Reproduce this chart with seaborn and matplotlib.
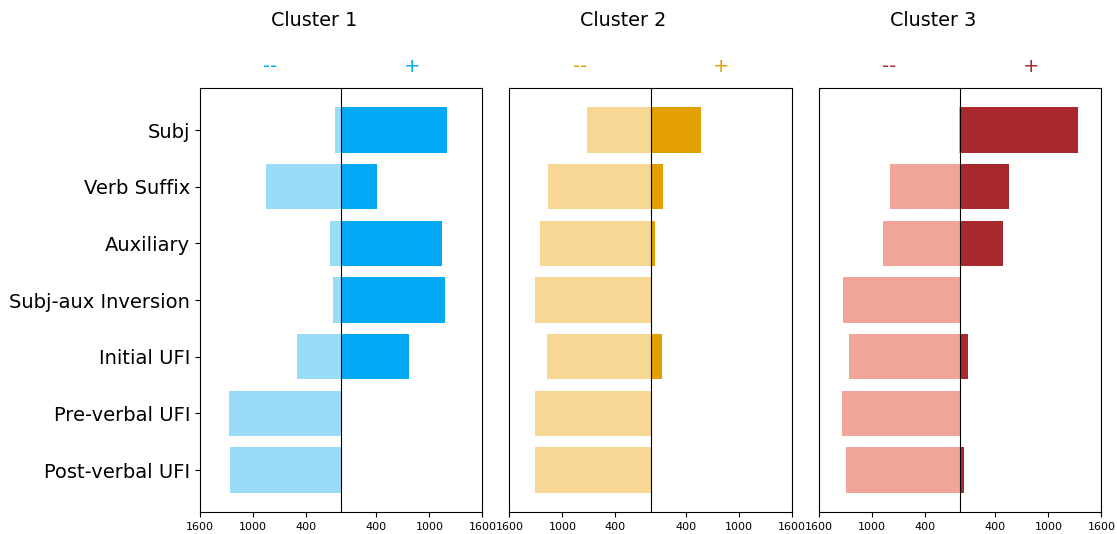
import numpy as np
import pandas as pd
import matplotlib
matplotlib.use("Agg")
import matplotlib.pyplot as plt
import seaborn as sns

# categorias (de arriba hacia abajo)
features = ['Subj', 'Verb Suffix', 'Auxiliary', 'Subj-aux Inversion',
            'Initial UFI', 'Pre-verbal UFI', 'Post-verbal UFI']
clusters = ['Cluster 1', 'Cluster 2', 'Cluster 3']

# valores "--" (izquierda) y "+" (derecha) por cluster
minus_c1 = [73, 851, 129, 95, 496, 1276, 1264]
plus_c1 = [1195, 404, 1142, 1172, 772, 0, 0]
minus_c2 = [726, 1162, 1253, 1310, 1173, 1310, 1310]
plus_c2 = [574, 140, 49, 0, 128, 0, 0]
minus_c3 = [12, 790, 869, 1323, 1260, 1339, 1294]
plus_c3 = [1336, 556, 481, 0, 91, 0, 45]

dark_colors = ['#03a9f4', '#e3a000', '#a8292b']
light_colors = ['#9adcf8', '#f6d793', '#f0a598']

tick_vals = [-1600, -1000, -400, 400, 1000, 1600]

minus_all = [minus_c1, minus_c2, minus_c3]
plus_all = [plus_c1, plus_c2, plus_c3]

fig, axes = plt.subplots(1, 3, figsize=(11.17, 5.34), dpi=100)
fig.subplots_adjust(left=0.179, right=0.986, bottom=0.041, top=0.835, wspace=0.096)

for i, ax in enumerate(axes):
    df = pd.DataFrame({'feature': features,
                       'minus': -np.array(minus_all[i]),
                       'plus': np.array(plus_all[i])})
    sns.barplot(data=df, x='minus', y='feature', orient='h', color=light_colors[i],
                saturation=1, errorbar=None, width=0.8, ax=ax)
    sns.barplot(data=df, x='plus', y='feature', orient='h', color=dark_colors[i],
                saturation=1, errorbar=None, width=0.8, ax=ax)
    ax.axvline(0, color='black', linewidth=0.8, zorder=5)
    ax.set_xlim(-1600, 1600)
    ax.set_ylim(len(features) - 1 + 0.74, -0.74)
    ax.set_xticks(tick_vals)
    ax.set_xticklabels([str(abs(v)) for v in tick_vals], fontsize=8)
    ax.set_xlabel('')
    ax.set_ylabel('')
    if i == 0:
        ax.tick_params(axis='y', labelsize=14)
    else:
        ax.tick_params(axis='y', left=False, labelleft=False)
    ax.text(0.404, 1.16, clusters[i], transform=ax.transAxes, ha='center',
            va='center', fontsize=13.8)
    ax.text(0.25, 1.05, '--', transform=ax.transAxes, ha='center',
            va='center', fontsize=14, color=dark_colors[i])
    ax.text(0.75, 1.05, '+', transform=ax.transAxes, ha='center',
            va='center', fontsize=14, color=dark_colors[i])

plt.savefig('out.png', dpi=100)
